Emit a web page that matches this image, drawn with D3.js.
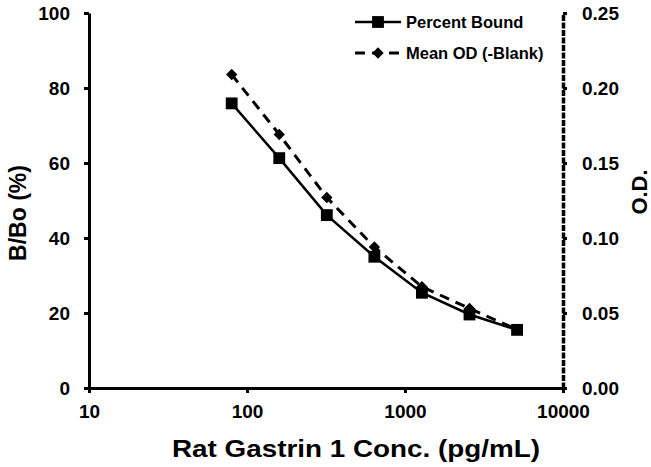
<!DOCTYPE html>
<html>
<head>
<meta charset="utf-8">
<script src="https://cdn.jsdelivr.net/npm/d3@7"></script>
<style>
  body { margin: 0; background: #fff; }
  svg text { font-family: "Liberation Sans", Arial, sans-serif; font-weight: bold; fill: #000; }
</style>
</head>
<body>
<div id="chart"></div>
<script>
// concentrations (pg/mL)
const conc = [80, 160, 320, 640, 1280, 2560, 5120];
// percent bound B/Bo (%)
const percentBound = [75.9, 61.3, 46.1, 35.0, 25.4, 19.6, 15.5];
// mean OD minus blank
const meanOD = [0.209, 0.169, 0.127, 0.094, 0.0675, 0.053, 0.039];

const xTicks = [10, 100, 1000, 10000];
const yLeftTicks = [0, 20, 40, 60, 80, 100];
const yRightTicks = [0, 0.05, 0.10, 0.15, 0.20, 0.25];

const width = 651, height = 467;
const margins = { top: 13, bottom: 79, left: 89, right: 88 };

const svg = d3.select("#chart")
  .append("svg")
  .attr("width", width)
  .attr("height", height);

const xScale = d3.scaleLog()
  .domain([10, 10000])
  .range([margins.left, width - margins.right]);

const yLeft = d3.scaleLinear()
  .domain([0, 100])
  .range([height - margins.bottom, margins.top]);

const yRight = d3.scaleLinear()
  .domain([0, 0.25])
  .range([height - margins.bottom, margins.top]);

function styleAxis(g, size) {
  g.select(".domain").attr("stroke", "#000").attr("stroke-width", 3);
  g.selectAll(".tick line").attr("stroke", "#000").attr("stroke-width", 3);
  g.selectAll(".tick text").attr("font-size", size);
}

// x axis
svg.append("g")
  .attr("transform", `translate(0,${height - margins.bottom})`)
  .call(d3.axisBottom(xScale)
    .tickValues(xTicks)
    .tickFormat(d3.format("d"))
    .tickSize(5)
    .tickSizeOuter(0)
    .tickPadding(12))
  .call(g => styleAxis(g, 19));

// left axis
svg.append("g")
  .attr("transform", `translate(${margins.left},0)`)
  .call(d3.axisLeft(yLeft)
    .tickValues(yLeftTicks)
    .tickSize(5)
    .tickSizeOuter(0)
    .tickPadding(14))
  .call(g => styleAxis(g, 19));

// right axis (dashed spine)
svg.append("g")
  .attr("transform", `translate(${width - margins.right},0)`)
  .call(d3.axisRight(yRight)
    .tickValues(yRightTicks)
    .tickFormat(d3.format(".2f"))
    .tickSize(4)
    .tickSizeOuter(0)
    .tickPadding(15))
  .call(g => styleAxis(g, 19))
  .call(g => g.select(".domain").attr("stroke-width", 3.5).attr("stroke-dasharray", "6,1.5"));

// axis titles
svg.append("text")
  .attr("transform", "translate(26,213) rotate(-90)")
  .attr("text-anchor", "middle")
  .attr("font-size", 23)
  .text("B/Bo (%)");

svg.append("text")
  .attr("transform", "translate(647,192) rotate(-90)")
  .attr("text-anchor", "middle")
  .attr("font-size", 22)
  .text("O.D.");

svg.append("text")
  .attr("x", 172)
  .attr("y", 457)
  .attr("font-size", 24)
  .attr("textLength", 368)
  .attr("lengthAdjust", "spacingAndGlyphs")
  .text("Rat Gastrin 1 Conc. (pg/mL)");

// series
const odLine = d3.line()
  .x((d, i) => xScale(conc[i]))
  .y(d => yRight(d));

const pbLine = d3.line()
  .x((d, i) => xScale(conc[i]))
  .y(d => yLeft(d));

const diamond = d3.symbol().type(d3.symbolSquare).size(64);
const square = d3.symbol().type(d3.symbolSquare).size(140);

svg.append("path")
  .attr("d", odLine(meanOD))
  .attr("fill", "none")
  .attr("stroke", "#000")
  .attr("stroke-width", 3)
  .attr("stroke-dasharray", "10,7");

svg.append("g")
  .selectAll("path")
  .data(meanOD)
  .join("path")
  .attr("d", diamond)
  .attr("transform", (d, i) => `translate(${xScale(conc[i])},${yRight(d)}) rotate(45)`)
  .attr("fill", "#000");

svg.append("path")
  .attr("d", pbLine(percentBound))
  .attr("fill", "none")
  .attr("stroke", "#000")
  .attr("stroke-width", 2.5);

svg.append("g")
  .selectAll("path")
  .data(percentBound)
  .join("path")
  .attr("d", square)
  .attr("transform", (d, i) => `translate(${xScale(conc[i])},${yLeft(d)})`)
  .attr("fill", "#000");

// legend
const legendItems = [
  { label: "Percent Bound", dash: null, sym: square, rot: 0, y: 22 },
  { label: "Mean OD (-Blank)", dash: "10,7", sym: diamond, rot: 45, y: 53 }
];

const legend = svg.append("g");
legendItems.forEach(item => {
  legend.append("line")
    .attr("x1", 355).attr("x2", 401)
    .attr("y1", item.y).attr("y2", item.y)
    .attr("stroke", "#000")
    .attr("stroke-width", item.dash ? 3 : 2.5)
    .attr("stroke-dasharray", item.dash);
  legend.append("path")
    .attr("d", item.sym)
    .attr("transform", `translate(378,${item.y}) rotate(${item.rot})`)
    .attr("fill", "#000");
  legend.append("text")
    .attr("x", 406)
    .attr("y", item.y + 6)
    .attr("font-size", 16.5)
    .text(item.label);
});
</script>
</body>
</html>
